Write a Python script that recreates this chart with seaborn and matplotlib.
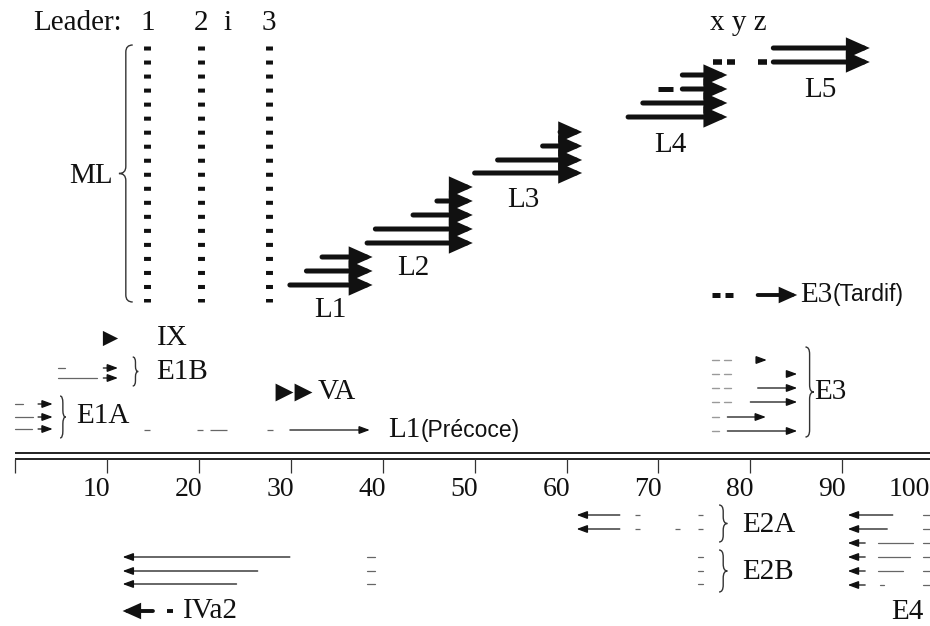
import matplotlib
matplotlib.use("Agg")
import matplotlib.pyplot as plt
import seaborn as sns
from matplotlib.path import Path
from matplotlib.patches import PathPatch, ArrowStyle
from matplotlib import font_manager

# ------------------------------------------------------------------
# DATA  (x = map units of the genome, y = row position on the map)
# ------------------------------------------------------------------
map_ticks = [0, 10, 20, 30, 40, 50, 60, 70, 80, 90]
tick_values = [10, 20, 30, 40, 50, 60, 70, 80, 90, 100]
axis_rows = [453, 459]

leader_x = [14.4, 20.2, 27.6]
leader_names = ["1", "2", "3"]
leader_i_x = 23.1

# late transcription units (rightward)
L1_starts = [33.4, 31.7, 29.9]
L1_rows = [257, 271, 285]
L1_end = 38.9
L2_starts = [47.5, 45.9, 43.3, 39.2, 38.3]
L2_rows = [187, 201, 215, 229, 243]
L2_end = 49.8
L3_starts = [59.3, 57.4, 52.5, 50.0]
L3_rows = [132, 146, 160, 173]
L3_end = 61.7
L4_starts = [72.6, 72.6, 68.3, 66.7]
L4_rows = [75, 89, 103, 117]
L4_end = 77.5
L4_dash = [70.0, 71.6]
L5_starts = [82.5, 82.5]
L5_rows = [48, 62]
L5_end = 93.0
L5_dash_starts = [75.9, 77.5, 80.8]
L5_dash_ends = [76.9, 78.3, 81.8]
late_names = ["L1", "L2", "L3", "L4", "L5"]
late_label_x = [34.3, 43.3, 55.3, 71.3, 87.6]
late_label_row = [310, 268, 200, 145, 90]

# E3 late
E3T_row = 295
E3T_dash_starts = [75.8, 77.2]
E3T_dash_ends = [76.7, 78.1]
E3T_arrow = [80.8, 85.1]

# E3 early
E3_rows = [360, 374, 388, 402, 417, 431]
E3_starts = [80.7, 84.0, 80.8, 80.0, 77.5, 77.5]
E3_ends = [81.8, 85.1, 85.1, 85.1, 81.7, 85.1]
E3_dash1 = [75.8, 76.6]
E3_dash2 = [77.1, 77.9]

# IX, E1B, E1A, VA, L1 early
IX_x = 10.3
IX_row = 338
E1B_rows = [368, 378]
E1B_arrow = [9.6, 11.2]
E1B_pre_starts = [4.7, 4.7]
E1B_pre_ends = [5.4, 8.9]
E1A_rows = [404, 417, 429]
E1A_arrow = [2.5, 4.1]
E1A_pre_ends = [0.86, 1.95, 1.84]
VA_x = [29.3, 31.3]
VA_row = 392
L1P_row = 430
L1P_dash_starts = [14.0, 19.8, 21.2, 27.4]
L1P_dash_ends = [14.7, 20.4, 23.1, 28.1]
L1P_arrow = [29.9, 38.6]

# leftward (lower strand)
E2A_rows = [515, 529]
E2A_tip = 61.1
E2A_tail = 65.8
E2A_dash_starts = [[67.5, 74.3], [67.5, 71.8, 74.3]]
E2A_dash_ends = [[68.0, 74.85], [68.0, 72.3, 74.85]]
E2B_rows = [557, 571, 584]
E2B_tip = 11.7
E2B_tails = [29.9, 26.4, 24.1]
E2B_dash_a = [38.3, 39.2]
E2B_dash_b = [74.3, 74.85]
E4_rows = [515, 529, 543, 557, 571, 585]
E4_tip = 90.6
E4_tails = [95.5, 94.9, 92.5, 92.5, 92.5, 92.5]
E4_extra_starts = [93.9, 93.9, 93.9, 94.1]
E4_extra_ends = [97.7, 97.4, 96.6, 94.5]
E4_end_dash = [98.8, 99.6]
IVa2_row = 611
IVa2_arrow = [15.0, 11.7]
IVa2_dash = [16.5, 17.2]

# ------------------------------------------------------------------
sns.set_theme(style="white")
plt.rcParams["font.family"] = ["Liberation Serif", "DejaVu Serif"]
plt.rcParams["lines.scale_dashes"] = False

def have(name):
    try:
        font_manager.findfont(font_manager.FontProperties(family=name),
                              fallback_to_default=False)
        return True
    except Exception:
        return False

SANS = "Liberation Sans Narrow" if have("Liberation Sans Narrow") else "Liberation Sans"
SERIF = "Liberation Serif"
FS = 21
FS_T = 20
FS_S = 19 if SANS.endswith("Narrow") else 16.5

fig = plt.figure(figsize=(9.3, 6.26), dpi=100)
ax = fig.add_axes([0, 0, 1, 1])
ax.set_xlim(-1.64, 99.55)
ax.set_ylim(626, 0)
ax.axis("off")

K = "#111111"
G = "#666666"
LG = "#9a9a9a"


def arrow(x0, x1, y, kind="thin", color=K):
    if kind == "thick":
        lw, hl, hw = 3.6, 11.0, 4.9
    elif kind == "mid":
        lw, hl, hw = 2.8, 8.5, 3.8
    else:
        lw, hl, hw = 0.9, 6.5, 2.4
    ax.annotate("", xy=(x1, y), xytext=(x0, y),
                arrowprops=dict(arrowstyle=ArrowStyle("-|>", head_length=hl, head_width=hw),
                                lw=lw, color=color, shrinkA=0, shrinkB=0,
                                mutation_scale=1, joinstyle="miter"))


def brace(xb, y0, y1, w, lw=1.0, color="#333333"):
    xm = xb + w / 2.0
    xt = xb + w
    ym = (y0 + y1) / 2.0
    r = min((y1 - y0) * 0.18, 7)
    verts = [(xb, y0), (xm, y0), (xm, y0 + r), (xm, ym - r), (xm, ym), (xt, ym),
             (xm, ym), (xm, ym + r), (xm, y1 - r), (xm, y1), (xb, y1)]
    codes = [Path.MOVETO, Path.CURVE3, Path.CURVE3, Path.LINETO, Path.CURVE3, Path.CURVE3,
             Path.CURVE3, Path.CURVE3, Path.LINETO, Path.CURVE3, Path.CURVE3]
    ax.add_patch(PathPatch(Path(verts, codes), fill=False, lw=lw, color=color))


def label(x, y, s, ha="left", size=FS, family=SERIF):
    return ax.text(x, y, s, ha=ha, va="center", fontsize=size, family=family, color=K)

# ---- axis (double line, ticks, labels)
for r in axis_rows:
    ax.plot([0, 99.55], [r, r], color=K, lw=1.3, solid_capstyle="butt")
ax.vlines(map_ticks, axis_rows[1], axis_rows[1] + 14, color="#333333", lw=0.9)
for t in tick_values:
    if t >= 100:
        ax.text(99.5, 490, str(t), ha="right", va="center", fontsize=FS_T, family=SERIF, color=K)
    else:
        ax.text(t - 1.1, 490, str(t), ha="center", va="center", fontsize=FS_T, family=SERIF, color=K)

# ---- leaders
label(1.95, 23, "Leader:")
for x, n in zip(leader_x, leader_names):
    label(x, 23, n, ha="center")
    ax.plot([x, x], [46, 302], color=K, lw=5.0, linestyle=(0, (2.9, 7.2)),
            dash_capstyle="butt")
label(leader_i_x, 23, "i", ha="center")
brace(12.8, 45, 302, -1.5)
label(10.6, 176, "ML", ha="right")

# ---- late units
for starts, rows, end in [(L1_starts, L1_rows, L1_end), (L2_starts, L2_rows, L2_end),
                          (L3_starts, L3_rows, L3_end), (L4_starts, L4_rows, L4_end),
                          (L5_starts, L5_rows, L5_end)]:
    for s, r in zip(starts, rows):
        arrow(s, end, r, "thick")
ax.plot(L4_dash, [L4_rows[1]] * 2, color=K, lw=3.6, solid_capstyle="butt")
ax.hlines([L5_rows[1]] * 3, L5_dash_starts, L5_dash_ends, color=K, lw=4.0)
for n, x, r in zip(late_names, late_label_x, late_label_row):
    label(x, r, n, ha="center")
label(78.7, 23, "x y z", ha="center")

# ---- E3 late
ax.hlines([E3T_row] * 2, E3T_dash_starts, E3T_dash_ends, color=K, lw=3.6)
arrow(E3T_arrow[0], E3T_arrow[1], E3T_row, "mid")
t = label(85.4, E3T_row, "E3")
ax.annotate("(Tardif)", xy=(1, 0.5), xycoords=t, xytext=(0, 0), textcoords="offset points",
            ha="left", va="center", fontsize=FS_S, family=SANS, color=K)

# ---- E3 early
for i, (r, s, e) in enumerate(zip(E3_rows, E3_starts, E3_ends)):
    ax.plot(E3_dash1, [r, r], color=LG, lw=1.0)
    if i < 4:
        ax.plot(E3_dash2, [r, r], color=LG, lw=1.0)
    arrow(s, e, r, "thin")
brace(86.0, 347, 437, 0.9)
label(87.0, 392, "E3")

# ---- IX, E1B, E1A, VA
sns.scatterplot(x=[IX_x], y=[IX_row], marker=">", s=120, color=K, linewidth=0, ax=ax, legend=False)
label(15.4, IX_row, "IX")
for r, s, e in zip(E1B_rows, E1B_pre_starts, E1B_pre_ends):
    ax.plot([s, e], [r, r], color=G, lw=0.9)
    arrow(E1B_arrow[0], E1B_arrow[1], r, "thin")
brace(12.8, 357, 386, 0.6)
label(15.4, 372, "E1B")
for r, e in zip(E1A_rows, E1A_pre_ends):
    ax.plot([0.0, e], [r, r], color=G, lw=0.9)
    arrow(E1A_arrow[0], E1A_arrow[1], r, "thin")
brace(4.9, 396, 438, 0.6)
label(6.6, 416, "E1A")
sns.scatterplot(x=VA_x, y=[VA_row] * len(VA_x), marker=">", s=165, color=K, linewidth=0,
                ax=ax, legend=False)
label(32.9, VA_row, "VA")

# ---- L1 early
ax.hlines([L1P_row] * len(L1P_dash_starts), L1P_dash_starts, L1P_dash_ends, color=G, lw=0.9)
arrow(L1P_arrow[0], L1P_arrow[1], L1P_row, "thin")
t = label(40.6, L1P_row, "L1")
ax.annotate("(Précoce)", xy=(1, 0.5), xycoords=t, xytext=(0, 0), textcoords="offset points",
            ha="left", va="center", fontsize=FS_S, family=SANS, color=K)

# ---- E2A / E2B
for r, ds, de in zip(E2A_rows, E2A_dash_starts, E2A_dash_ends):
    arrow(E2A_tail, E2A_tip, r, "thin")
    ax.hlines([r] * len(ds), ds, de, color=G, lw=0.9)
brace(76.6, 505, 542, 0.9)
label(79.1, 525, "E2A")
for r, tl in zip(E2B_rows, E2B_tails):
    arrow(tl, E2B_tip, r, "thin")
    ax.plot(E2B_dash_a, [r, r], color=G, lw=0.9)
    ax.plot(E2B_dash_b, [r, r], color=G, lw=0.9)
brace(76.6, 550, 592, 0.9)
label(79.1, 572, "E2B")

# ---- E4
for i, (r, tl) in enumerate(zip(E4_rows, E4_tails)):
    arrow(tl, E4_tip, r, "thin")
    if i >= 2:
        ax.plot([E4_extra_starts[i - 2], E4_extra_ends[i - 2]], [r, r], color=G, lw=0.9)
    ax.plot(E4_end_dash, [r, r], color=G, lw=0.9)
label(97.1, 612, "E4", ha="center")

# ---- IVa2
arrow(IVa2_arrow[0], IVa2_arrow[1], IVa2_row, "mid")
ax.plot(IVa2_dash, [IVa2_row] * 2, color=K, lw=2.8, solid_capstyle="butt")
label(18.3, IVa2_row, "IVa2")

fig.savefig("out.png", dpi=100)
